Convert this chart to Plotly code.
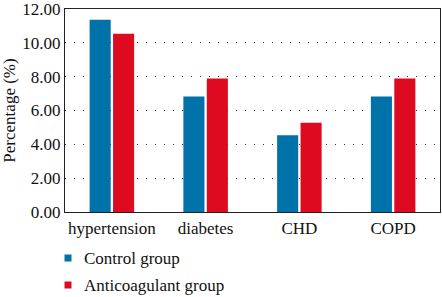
import plotly.graph_objects as go

categories = ["hypertension", "diabetes", "CHD", "COPD"]
control = [11.36, 6.83, 4.54, 6.83]
anticoag = [10.53, 7.89, 5.27, 7.89]
series_names = ["Control group", "Anticoagulant group"]
tick_vals = [0, 2, 4, 6, 8, 10, 11.9999]
tick_text = ["0.00", "2.00", "4.00", "6.00", "8.00", "10.00", "12.00"]
colors = ["#0072AA", "#DE0A1F"]

font_family = "Liberation Serif, DejaVu Serif, serif"

W, H = 442, 297
ML, MR, MT, MB = 65, 2, 9, 85
pw, ph = W - ML - MR, H - MT - MB

fig = go.Figure()
for vals, name, col in zip([control, anticoag], series_names, colors):
    fig.add_trace(go.Bar(x=categories, y=vals, name=name,
                         marker=dict(color=col, line=dict(width=0)),
                         showlegend=False))

# manual legend (square swatch + label), placed in pixel offsets below the plot
legend_y_px = [258, 285]
for name, col, ypx in zip(series_names, colors, legend_y_px):
    yp = (H - MB - ypx) / ph
    fig.add_shape(type="rect", xref="paper", yref="paper",
                  xsizemode="pixel", ysizemode="pixel",
                  xanchor=(68 - ML) / pw, yanchor=yp,
                  x0=-3.5, x1=3.5, y0=-3.5, y1=3.5,
                  fillcolor=col, line=dict(width=0))
    fig.add_annotation(text=name, xref="paper", yref="paper",
                       x=(82 - ML) / pw, y=yp, xanchor="left", yanchor="middle",
                       showarrow=False, font=dict(size=17, family=font_family, color="#111"))

fig.update_layout(
    width=W, height=H,
    margin=dict(l=ML, r=MR, t=MT, b=MB),
    barmode="group", bargap=0.5, bargroupgap=0.1,
    plot_bgcolor="white", paper_bgcolor="white",
    font=dict(family=font_family, size=17, color="#111"),
    showlegend=False,
    xaxis=dict(showline=True, linecolor="#222", linewidth=1.2, mirror=True,
               ticks="", tickfont=dict(size=17), automargin=False, tickangle=0),
    yaxis=dict(range=[0, 12], tickvals=tick_vals, ticktext=tick_text,
               showline=True, linecolor="#222", linewidth=1.2, mirror=True,
               showgrid=True, gridcolor="#333", griddash="1px,8px", gridwidth=1,
               zeroline=False, ticks="", tickfont=dict(size=17), automargin=False,
               ticklabeloverflow="allow",
               title=dict(text="Percentage (%)", font=dict(size=17), standoff=4)),
)

fig.write_html("out.html", config={"displayModeBar": False},
               post_script="document.body.style.margin='0';document.body.style.overflow='hidden';")
